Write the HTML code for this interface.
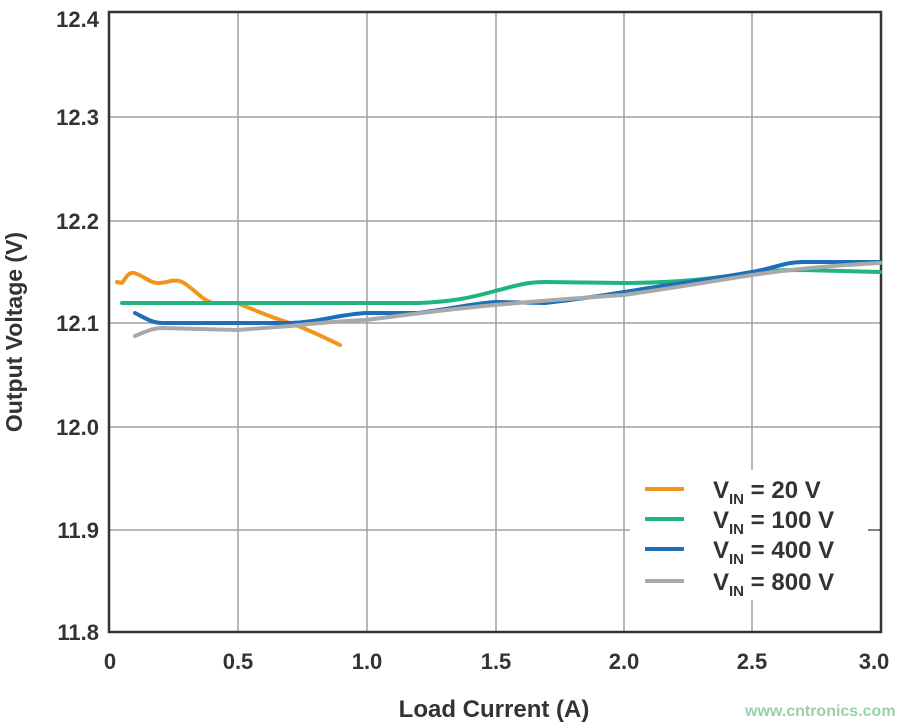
<!DOCTYPE html>
<html><head><style>body{margin:0;background:#fff}svg{display:block}text{font-family:"Liberation Sans",Arial,sans-serif;font-weight:bold;fill:#333}</style></head><body>
<svg width="900" height="725" viewBox="0 0 900 725">
<g stroke="#a0a0a0" stroke-width="1.5">
<line x1="238" y1="12" x2="238" y2="632"/><line x1="367" y1="12" x2="367" y2="632"/><line x1="496" y1="12" x2="496" y2="632"/><line x1="624" y1="12" x2="624" y2="632"/><line x1="752" y1="12" x2="752" y2="632"/>
<line x1="109" y1="117" x2="881" y2="117"/><line x1="109" y1="221" x2="881" y2="221"/><line x1="109" y1="323" x2="881" y2="323"/><line x1="109" y1="427" x2="881" y2="427"/><line x1="109" y1="530" x2="881" y2="530"/>
</g>
<rect x="630" y="470" width="248" height="130" fill="#fff"/>
<line x1="868" y1="530" x2="881" y2="530" stroke="#555" stroke-width="1.5"/>
<rect x="109" y="12" width="772" height="620" fill="none" stroke="#333" stroke-width="2.5"/>
<g fill="none" stroke-width="4" stroke-linecap="round" stroke-linejoin="round">
<path stroke="#f0961e" d="M117,282 L122,283 C126,278 128,272 134,273 C145,276 150,284 160,283 C170,282 175,278 184,283 C195,290 202,300 213,303 L237,303 C255,310 272,318 290,323 C310,330 325,338 340,345"/>
<path stroke="#1fb57e" d="M122,303 L418,303 C450,302 470,298 495,291 C515,286 525,282 545,282 L624,283 C680,283 720,278 752,272 C775,270 790,270 803,270 L880,272"/>
<path stroke="#1d6fb8" d="M135,313 C145,318 152,323 163,323 L290,323 C320,322 340,314 367,313 L418,313 C450,309 470,304 495,302 L545,303 C580,299 600,296 624,292 C680,283 720,278 752,272 C775,268 785,262 803,262 L880,262"/>
<path stroke="#a9a9a9" d="M135,336 C145,332 152,328 163,328 L237,330 L290,326 C320,323 340,321 366,320 C420,313 460,308 495,305 C550,300 580,298 624,295 C680,287 720,280 752,275 C800,268 840,265 880,263"/>
</g>
<g font-size="22" text-anchor="end">
<text x="99" y="27">12.4</text><text x="99" y="125">12.3</text><text x="99" y="229">12.2</text><text x="99" y="331">12.1</text><text x="99" y="435">12.0</text><text x="99" y="538">11.9</text><text x="99" y="640">11.8</text>
</g>
<g font-size="22" text-anchor="middle">
<text x="110" y="669">0</text><text x="238" y="669">0.5</text><text x="367" y="669">1.0</text><text x="496" y="669">1.5</text><text x="624" y="669">2.0</text><text x="752" y="669">2.5</text><text x="874" y="669">3.0</text>
<text x="494" y="717" font-size="24">Load Current (A)</text>
<text transform="translate(22,332) rotate(-90)" font-size="23">Output Voltage (V)</text>
</g>
<g stroke-width="4">
<line x1="645" y1="489" x2="684" y2="489" stroke="#f0961e"/><line x1="645" y1="519" x2="684" y2="519" stroke="#1fb57e"/><line x1="645" y1="549" x2="684" y2="549" stroke="#1d6fb8"/><line x1="645" y1="581" x2="684" y2="581" stroke="#a9a9a9"/>
</g>
<g font-size="24">
<text x="713" y="498">V<tspan font-size="15" dy="6">IN</tspan><tspan dy="-6"> = 20 V</tspan></text>
<text x="713" y="528">V<tspan font-size="15" dy="6">IN</tspan><tspan dy="-6"> = 100 V</tspan></text>
<text x="713" y="558">V<tspan font-size="15" dy="6">IN</tspan><tspan dy="-6"> = 400 V</tspan></text>
<text x="713" y="590">V<tspan font-size="15" dy="6">IN</tspan><tspan dy="-6"> = 800 V</tspan></text>
</g>
<text x="745" y="716" font-size="16" font-weight="normal" style="fill:#9ad0a8">www.cntronics.com</text>
</svg>
</body></html>
